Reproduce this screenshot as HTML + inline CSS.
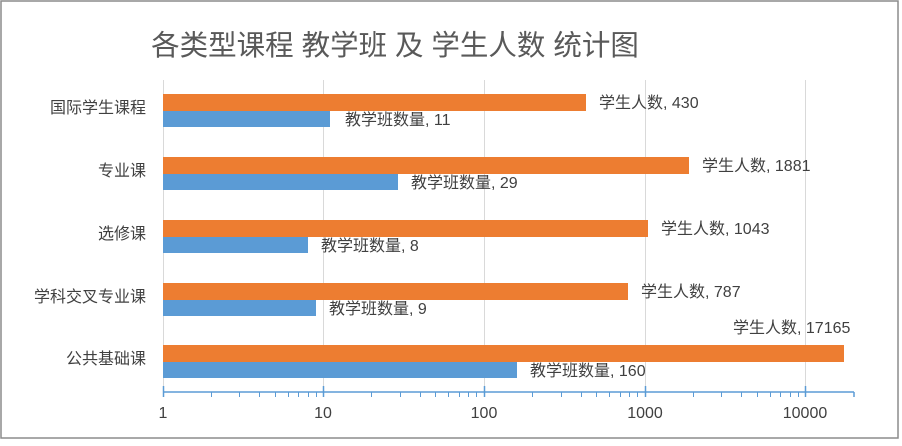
<!DOCTYPE html>
<html><head><meta charset="utf-8"><style>
body{margin:0;background:#fff}
svg text{font-family:"Liberation Sans","Noto Sans CJK SC",sans-serif}
</style></head><body>
<svg width="902" height="441" xmlns="http://www.w3.org/2000/svg">
<rect x="1" y="1" width="897" height="437" fill="#fff" stroke="#8c8c8c" stroke-width="1.5"/>
<text x="395" y="55" text-anchor="middle" font-size="28.5" fill="#595959">各类型课程 教学班 及 学生人数 统计图</text>
<g stroke="#d9d9d9" stroke-width="1">
<line x1="163.5" y1="80" x2="163.5" y2="392"/>
<line x1="323.5" y1="80" x2="323.5" y2="392"/>
<line x1="484.5" y1="80" x2="484.5" y2="392"/>
<line x1="645.5" y1="80" x2="645.5" y2="392"/>
<line x1="805.5" y1="80" x2="805.5" y2="392"/>
</g>
<g fill="#ed7d31">
<rect x="163" y="94" width="423" height="17"/>
<rect x="163" y="157" width="526" height="17"/>
<rect x="163" y="220" width="485" height="17"/>
<rect x="163" y="283" width="465" height="17"/>
<rect x="163" y="345" width="681" height="17"/>
</g>
<g fill="#5b9bd5">
<rect x="163" y="111" width="167" height="16"/>
<rect x="163" y="174" width="235" height="16"/>
<rect x="163" y="237" width="145" height="16"/>
<rect x="163" y="300" width="153" height="16"/>
<rect x="163" y="362" width="354" height="16"/>
</g>
<g stroke="#5b9bd5" stroke-width="1.5">
<line x1="163" y1="392" x2="854" y2="392"/>
<line x1="163.5" y1="386" x2="163.5" y2="397"/>
<line x1="323.5" y1="386" x2="323.5" y2="397"/>
<line x1="484.5" y1="386" x2="484.5" y2="397"/>
<line x1="645.5" y1="386" x2="645.5" y2="397"/>
<line x1="805.5" y1="386" x2="805.5" y2="397"/>
<line x1="854" y1="392" x2="854" y2="397"/>
</g>
<g stroke="#5b9bd5" stroke-width="1">
<path d="M211.5 392v5M239.5 392v5M259.5 392v5M275.5 392v5M288.5 392v5M298.5 392v5M308.5 392v5M316.5 392v5
M371.5 392v5M400.5 392v5M420.5 392v5M435.5 392v5M448.5 392v5M459.5 392v5M468.5 392v5M476.5 392v5
M532.5 392v5M561.5 392v5M581.5 392v5M596.5 392v5M609.5 392v5M620.5 392v5M629.5 392v5M637.5 392v5
M693.5 392v5M721.5 392v5M741.5 392v5M757.5 392v5M770.5 392v5M780.5 392v5M790.5 392v5M798.5 392v5"/>
</g>
<g font-size="16" fill="#404040" text-anchor="middle">
<text x="163" y="418">1</text>
<text x="323" y="418">10</text>
<text x="484" y="418">100</text>
<text x="645" y="418">1000</text>
<text x="805" y="418">10000</text>
</g>
<g font-size="16" fill="#404040" text-anchor="end">
<text x="146" y="113">国际学生课程</text>
<text x="146" y="176">专业课</text>
<text x="146" y="239">选修课</text>
<text x="146" y="302">学科交叉专业课</text>
<text x="146" y="364">公共基础课</text>
</g>
<g font-size="16" fill="#404040">
<text x="599" y="108">学生人数, 430</text>
<text x="345" y="125">教学班数量, 11</text>
<text x="702" y="171">学生人数, 1881</text>
<text x="411" y="188">教学班数量, 29</text>
<text x="661" y="234">学生人数, 1043</text>
<text x="321" y="251">教学班数量, 8</text>
<text x="641" y="297">学生人数, 787</text>
<text x="329" y="314">教学班数量, 9</text>
<text x="733" y="333">学生人数, 17165</text>
<text x="530" y="376">教学班数量, 160</text>
</g>
</svg>
</body></html>
